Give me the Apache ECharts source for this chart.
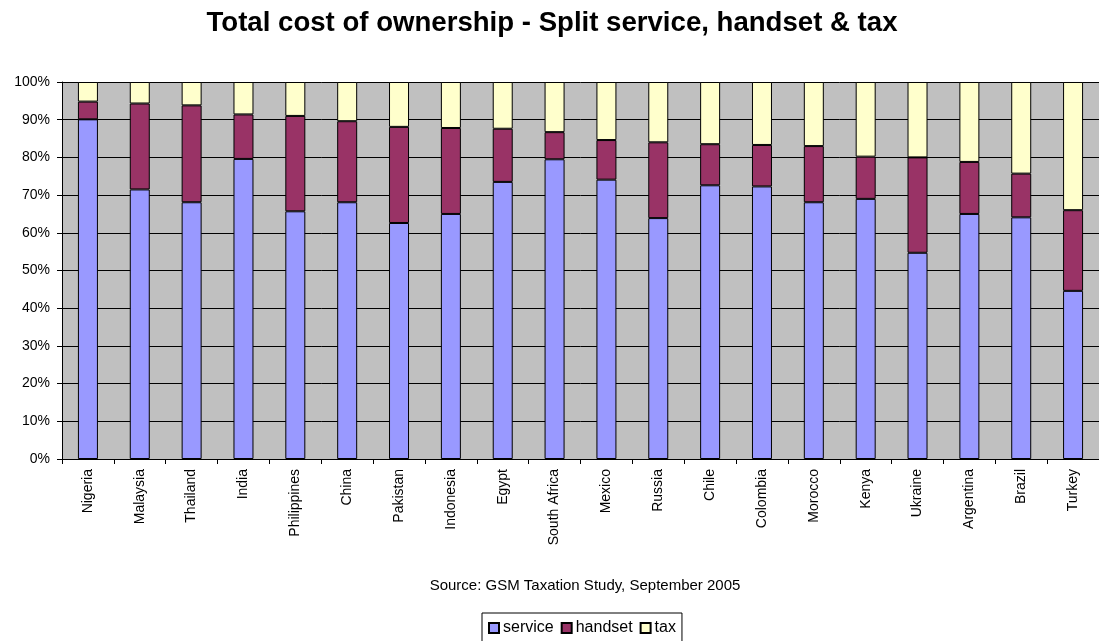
<!DOCTYPE html>
<html>
<head>
<meta charset="utf-8">
<style>
  html, body { margin: 0; padding: 0; background: #fff; }
  #chart { width: 1099px; height: 641px; }
</style>
<script src="https://cdn.jsdelivr.net/npm/echarts@6/dist/echarts.min.js"></script>
</head>
<body>
<div id="chart"></div>
<script>
// Countries along the x axis
const countries = ['Nigeria', 'Malaysia', 'Thailand', 'India', 'Philippines', 'China', 'Pakistan',
  'Indonesia', 'Egypt', 'South Africa', 'Mexico', 'Russia', 'Chile', 'Colombia', 'Morocco',
  'Kenya', 'Ukraine', 'Argentina', 'Brazil', 'Turkey'];

// Share of total cost of ownership (%)
const service = [90.1, 71.5, 68.1, 79.6, 65.7, 68.1, 62.6, 65.0, 73.5, 79.5, 74.1, 63.9, 72.6, 72.3, 68.1, 69.0, 54.7, 65.0, 64.1, 44.6];
const handset = [4.7, 22.8, 25.7, 11.8, 25.3, 21.5, 25.5, 22.8, 14.1, 7.2, 10.5, 20.1, 10.9, 11.0, 14.9, 11.2, 25.3, 13.8, 11.6, 21.4];
const tax = [5.2, 5.7, 6.2, 8.6, 9.0, 10.4, 11.9, 12.2, 12.4, 13.3, 15.4, 16.0, 16.5, 16.7, 17.0, 19.8, 20.0, 21.2, 24.3, 34.0];

const chart = echarts.init(document.getElementById('chart'), null, { renderer: 'canvas' });
const font = 'Arial, "Liberation Sans", sans-serif';

function barSeries(name, data, color) {
  return {
    name: name,
    type: 'bar',
    stack: 'total',
    data: data,
    barWidth: 20,
    itemStyle: { color: color, borderColor: '#000', borderWidth: 1 },
    emphasis: { disabled: true }
  };
}

chart.setOption({
  backgroundColor: '#fff',
  animation: false,
  title: [
    {
      text: 'Total cost of ownership - Split service, handset & tax',
      left: 547,
      textAlign: 'center',
      top: 4,
      textStyle: { fontFamily: font, fontSize: 27.6, fontWeight: 'bold', color: '#000' }
    },
    {
      text: 'Source: GSM Taxation Study, September 2005',
      left: 580,
      textAlign: 'center',
      top: 573,
      textStyle: { fontFamily: font, fontSize: 15, fontWeight: 'normal', color: '#000' }
    }
  ],
  legend: {
    left: 482,
    top: 613,
    padding: [7, 6, 7, 6],
    itemGap: 7,
    itemWidth: 10,
    itemHeight: 10,
    icon: 'rect',
    borderColor: '#000',
    borderWidth: 1,
    backgroundColor: '#fff',
    textStyle: { fontFamily: font, fontSize: 16, color: '#000', padding: [0, 0, 0, -1] },
    data: ['service', 'handset', 'tax']
  },
  grid: {
    left: 62,
    top: 82,
    bottom: 182,
    width: 1040,
    show: true,
    backgroundColor: '#C0C0C0',
    borderWidth: 0
  },
  xAxis: {
    type: 'category',
    data: countries,
    axisLine: { show: true, lineStyle: { color: '#000', width: 1 } },
    axisTick: { show: true, alignWithLabel: false, length: 5, lineStyle: { color: '#000' } },
    axisLabel: { rotate: 90, margin: 10, fontFamily: font, fontSize: 14, color: '#000', interval: 0 },
    splitLine: { show: false }
  },
  yAxis: {
    type: 'value',
    min: 0,
    max: 100,
    interval: 10,
    axisLine: { show: true, lineStyle: { color: '#000', width: 1 } },
    axisTick: { show: true, length: 5, lineStyle: { color: '#000' } },
    axisLabel: { formatter: '{value}%', margin: 12, fontFamily: font, fontSize: 14, color: '#000' },
    splitLine: { show: true, lineStyle: { color: '#000', width: 1 } }
  },
  series: [
    barSeries('service', service, '#9999FF'),
    barSeries('handset', handset, '#993366'),
    barSeries('tax', tax, '#FFFFCC')
  ]
});
</script>
</body>
</html>
